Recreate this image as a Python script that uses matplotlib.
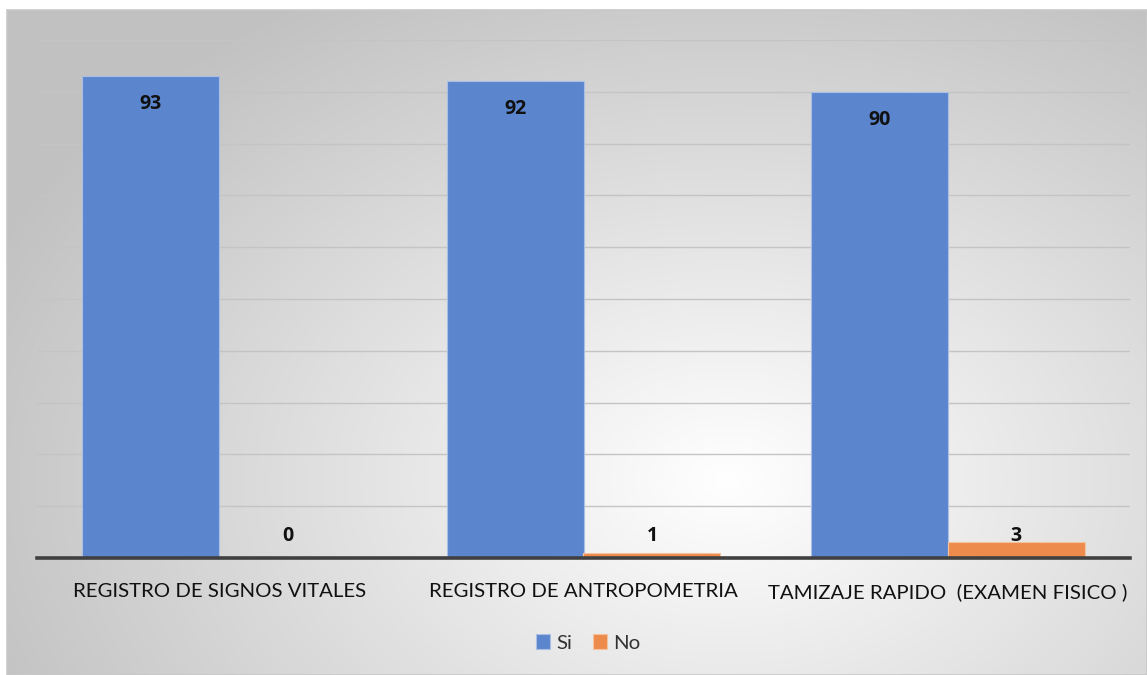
import numpy as np
import matplotlib
matplotlib.use("Agg")
import matplotlib.pyplot as plt
from matplotlib.patches import Rectangle

categories = ["REGISTRO DE SIGNOS VITALES", "REGISTRO DE ANTROPOMETRIA",
              "TAMIZAJE RAPIDO  (EXAMEN FISICO )"]
si_values = [93, 92, 90]
no_values = [0, 1, 3]
series_names = ["Si", "No"]

W, H = 1147, 675
fig = plt.figure(figsize=(W / 100, H / 100), dpi=100)
fig.patch.set_facecolor("white")

# chart area with a soft radial gradient
bx0, by0 = 7, 10
bg = fig.add_axes([bx0 / W, 0, (W - bx0) / W, (H - by0) / H])
yy, xx = np.mgrid[0:H - by0, 0:W - bx0]
cx, cy = 720, 470
r = np.sqrt(((xx - cx) / 800.0) ** 2 + ((yy - cy) / 560.0) ** 2)
r = np.clip(r, 0, 1)
light, dark = 1.0, 0.76
val = light - (light - dark) * r ** 1.0
img = np.dstack([val, val, val])
bg.imshow(img, aspect="auto", interpolation="bilinear")
bg.set_axis_off()
bg.add_patch(Rectangle((0, 0), 1, 1, transform=bg.transAxes, fill=False,
                       edgecolor="#c8c8c8", linewidth=1.2, clip_on=False))

# plot area
x0, x1 = 37, 1130
y_top, y_base = 40, 558
ax = fig.add_axes([x0 / W, (H - y_base) / H, (x1 - x0) / W, (y_base - y_top) / H])
ax.set_facecolor("none")

x = np.arange(len(categories))
bw = 0.376
si_color = "#5b85cc"
no_color = "#ec8b4b"
b_si = ax.bar(x - bw / 2, si_values, bw, color=si_color, edgecolor="#a9bfe6",
              linewidth=0.8, label=series_names[0], zorder=3)
b_no = ax.bar(x + bw / 2, no_values, bw, color=no_color, edgecolor="#f5c3a0",
              linewidth=0.8, label=series_names[1], zorder=3)

ax.set_xlim(-0.5, len(categories) - 0.5)
ax.set_ylim(0, 100)
ax.set_yticks(np.arange(0, 101, 10))
ax.yaxis.grid(True, color="#c4c4c4", linewidth=1.0, zorder=0)
ax.tick_params(axis="y", left=False, labelleft=False)
for s in ["top", "right", "left"]:
    ax.spines[s].set_visible(False)
ax.spines["bottom"].set_color("#404040")
ax.spines["bottom"].set_linewidth(2.6)
ax.spines["bottom"].set_zorder(4)

ax.set_xticks(x)
ax.set_xticklabels(categories, fontsize=14.7, family="Lato", color="#111111")
ax.tick_params(axis="x", length=0, pad=18)

num_font = dict(fontsize=14, fontweight="bold", family="Open Sans",
                color="#111111", ha="center", va="center", zorder=5)
for rect, v in zip(b_si, si_values):
    ax.annotate(f"{v}", (rect.get_x() + rect.get_width() / 2, v),
                xytext=(0, -20), textcoords="offset points", **num_font)
for rect, v in zip(b_no, no_values):
    ax.text(rect.get_x() + rect.get_width() / 2, 4.3, f"{v}", **num_font)

leg = fig.legend(handles=[b_si, b_no], labels=series_names, loc="center",
                 bbox_to_anchor=(588 / W, 1 - 643 / H), ncol=2, frameon=False,
                 prop={"family": "Lato", "size": 14.7}, handlelength=0.7,
                 handleheight=0.7, handletextpad=0.3, columnspacing=1.0)
for t in leg.get_texts():
    t.set_color("#333333")

fig.savefig("out.png", dpi=100)
